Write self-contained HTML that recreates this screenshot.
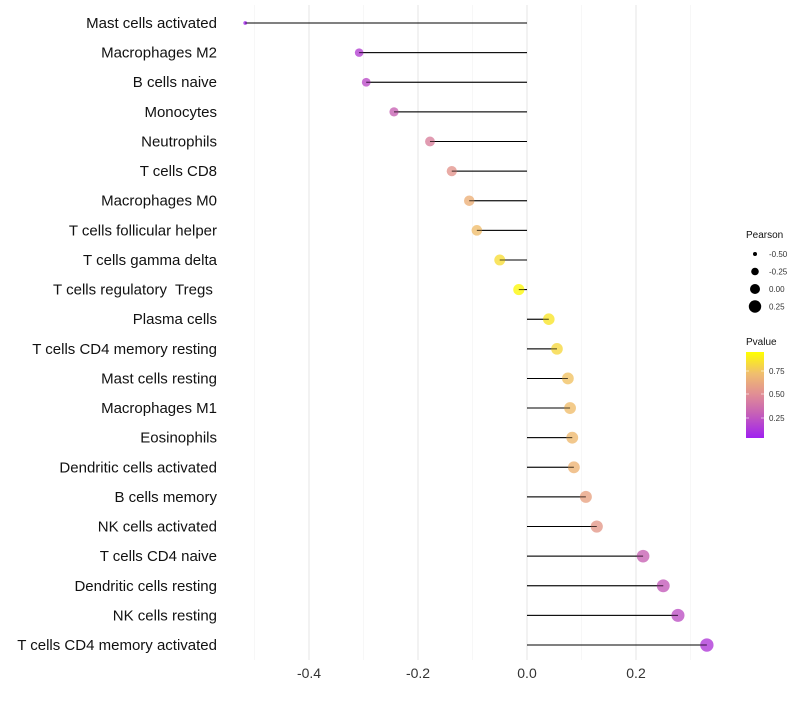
<!DOCTYPE html>
<html><head><meta charset="utf-8"><style>
body{margin:0;background:#fff;font-family:"Liberation Sans",sans-serif;}
text{white-space:pre;}
</style></head><body>
<svg id="chart" width="800" height="700" xmlns="http://www.w3.org/2000/svg"></svg>
<script>
const categories=["Mast cells activated","Macrophages M2","B cells naive","Monocytes","Neutrophils","T cells CD8","Macrophages M0","T cells follicular helper","T cells gamma delta","T cells regulatory  Tregs ","Plasma cells","T cells CD4 memory resting","Mast cells resting","Macrophages M1","Eosinophils","Dendritic cells activated","B cells memory","NK cells activated","T cells CD4 naive","Dendritic cells resting","NK cells resting","T cells CD4 memory activated"];
const pearson=[-0.517,-0.308,-0.295,-0.244,-0.178,-0.138,-0.106,-0.092,-0.050,-0.015,0.040,0.055,0.075,0.079,0.083,0.086,0.108,0.128,0.213,0.250,0.277,0.330];
const pvalues=[0.02,0.15,0.2,0.3,0.45,0.55,0.68,0.75,0.87,0.97,0.9,0.85,0.77,0.75,0.73,0.7,0.62,0.57,0.3,0.27,0.22,0.12];
const xTicks=[-0.4,-0.2,0.0,0.2];
const xTickLabels=["-0.4","-0.2","0.0","0.2"];
const sizeLegend=[-0.5,-0.25,0,0.25];
const NS="http://www.w3.org/2000/svg";
const svg=document.getElementById('chart');
function el(t,a,p){const e=document.createElementNS(NS,t);for(const k in a)e.setAttribute(k,a[k]);(p||svg).appendChild(e);return e;}
const x=v=>527+v*545;
const y=i=>23+i*29.62;
const r=p=>Math.max(1.7,1.9+5.2*Math.sqrt(Math.max(0,p+0.517)));
const stops=[[0,[160,32,240]],[0.3,[200,100,180]],[0.5,[224,140,150]],[0.75,[240,190,110]],[1,[255,255,0]]];
function col(v){for(let i=1;i<stops.length;i++){if(v<=stops[i][0]){const a=stops[i-1],b=stops[i],t=(v-a[0])/(b[0]-a[0]);return 'rgb('+a[1].map((c,j)=>Math.round(c+(b[1][j]-c)*t)).join(',')+')';}}return 'rgb(255,255,0)';}
[-0.5,-0.3,-0.1,0.1,0.3].forEach(v=>{const g=el('line',{x1:x(v),x2:x(v),y1:5,y2:660,stroke:'#f2f2f2','stroke-width':0.6});});
xTicks.forEach((v,i)=>{const g=el('line',{x1:x(v),x2:x(v),y1:5,y2:660,stroke:'#e6e6e6','stroke-width':1});
const t=el('text',{x:x(v),y:678,'text-anchor':'middle','font-size':14,fill:'#333'});t.textContent=xTickLabels[i];});
categories.forEach((c,i)=>{const t=el('text',{x:217,y:y(i)+5,'text-anchor':'end','font-size':15,fill:'#111','xml:space':'preserve'});t.textContent=c;
const l=el('line',{x1:x(0),x2:x(pearson[i]),y1:y(i),y2:y(i),stroke:'#000','stroke-width':1});
const d=el('circle',{cx:x(pearson[i]),cy:y(i),r:r(pearson[i]),fill:col(pvalues[i]),'fill-opacity':0.8});
const l2=el('line',{x1:x(0),x2:x(pearson[i]),y1:y(i),y2:y(i),stroke:'#000','stroke-width':1,'stroke-opacity':0.6});});
let t=el('text',{x:746,y:238,'font-size':10,fill:'#111'});t.textContent='Pearson';
sizeLegend.forEach((v,i)=>{const cy=254+i*17.5;const c=el('circle',{cx:755,cy:cy,r:[2,3.8,5,6.2][i],fill:'#000'});
const tt=el('text',{x:769,y:cy+3,'font-size':8,fill:'#333'});tt.textContent=v.toFixed(2);});
t=el('text',{x:746,y:345,'font-size':10,fill:'#111'});t.textContent='Pvalue';
const defs=el('defs',{});const lg=el('linearGradient',{id:'pg',x1:0,y1:1,x2:0,y2:0},defs);
stops.forEach(s=>el('stop',{offset:s[0],'stop-color':col(s[0])},lg));
const bar=el('rect',{x:746,y:352,width:18,height:86,fill:'url(#pg)'});
[[0.75,371],[0.5,394],[0.25,418]].forEach(a=>{const tt=el('text',{x:769,y:a[1]+3,'font-size':8,fill:'#333'});tt.textContent=a[0].toFixed(2);
el('line',{x1:746,x2:749,y1:a[1],y2:a[1],stroke:'#fff','stroke-width':0.6});el('line',{x1:761,x2:764,y1:a[1],y2:a[1],stroke:'#fff','stroke-width':0.6});});
</script>
</body></html>
